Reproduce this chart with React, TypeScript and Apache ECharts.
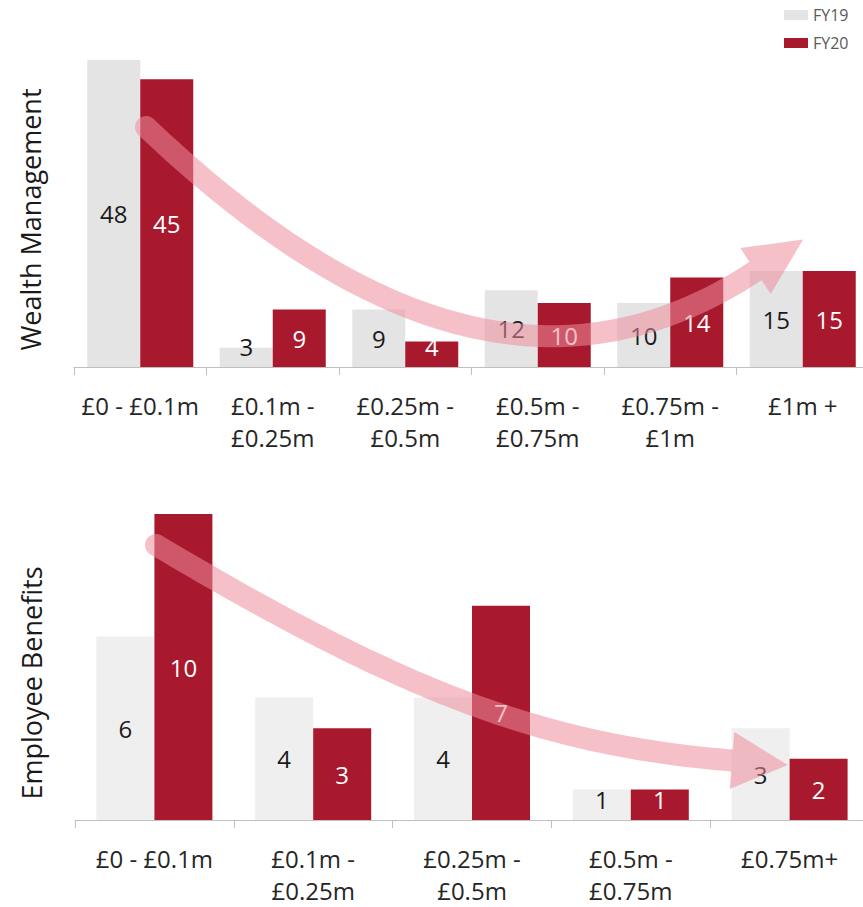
import React, { useEffect, useRef } from "react";
import * as echarts from "echarts";

const wmCategories = ["£0 - £0.1m", "£0.1m -\n£0.25m", "£0.25m -\n£0.5m", "£0.5m -\n£0.75m", "£0.75m -\n£1m", "£1m +"];
const wmFY19 = [48, 3, 9, 12, 10, 15];
const wmFY20 = [45, 9, 4, 10, 14, 15];

const ebCategories = ["£0 - £0.1m", "£0.1m -\n£0.25m", "£0.25m -\n£0.5m", "£0.5m -\n£0.75m", "£0.75m+"];
const ebFY19 = [6, 4, 4, 1, 3];
const ebFY20 = [10, 3, 7, 1, 2];

const seriesNames = ["FY19", "FY20"];

type P = [number, number];

function bez(p0: P, p1: P, p2: P, p3: P, t: number): P {
  const m = 1 - t;
  return [
    m * m * m * p0[0] + 3 * m * m * t * p1[0] + 3 * m * t * t * p2[0] + t * t * t * p3[0],
    m * m * m * p0[1] + 3 * m * m * t * p1[1] + 3 * m * t * t * p2[1] + t * t * t * p3[1],
  ];
}
function bezD(p0: P, p1: P, p2: P, p3: P, t: number): P {
  const m = 1 - t;
  const dx = 3 * m * m * (p1[0] - p0[0]) + 6 * m * t * (p2[0] - p1[0]) + 3 * t * t * (p3[0] - p2[0]);
  const dy = 3 * m * m * (p1[1] - p0[1]) + 6 * m * t * (p2[1] - p1[1]) + 3 * t * t * (p3[1] - p2[1]);
  const l = Math.hypot(dx, dy) || 1;
  return [dx / l, dy / l];
}

function arrowPoints(p0: P, p1: P, p2: P, p3: P, w: number, headLen: number, headW: number): P[] {
  const N = 80;
  const h = w / 2;
  const left: P[] = [];
  const right: P[] = [];
  for (let i = 0; i <= N; i++) {
    const t = i / N;
    const p = bez(p0, p1, p2, p3, t);
    const d = bezD(p0, p1, p2, p3, t);
    const n: P = [-d[1], d[0]];
    left.push([p[0] + n[0] * h, p[1] + n[1] * h]);
    right.push([p[0] - n[0] * h, p[1] - n[1] * h]);
  }
  const T = bezD(p0, p1, p2, p3, 1);
  const nE: P = [-T[1], T[0]];
  const baseL: P = [p3[0] + nE[0] * headW / 2, p3[1] + nE[1] * headW / 2];
  const tip: P = [p3[0] + T[0] * headLen, p3[1] + T[1] * headLen];
  const baseR: P = [p3[0] - nE[0] * headW / 2, p3[1] - nE[1] * headW / 2];
  const T0 = bezD(p0, p1, p2, p3, 0);
  const n0: P = [-T0[1], T0[0]];
  const cap: P[] = [];
  const M = 20;
  for (let k = 1; k < M; k++) {
    const phi = (k / M) * Math.PI;
    cap.push([
      p0[0] + h * (Math.cos(phi) * -n0[0] + Math.sin(phi) * -T0[0]),
      p0[1] + h * (Math.cos(phi) * -n0[1] + Math.sin(phi) * -T0[1]),
    ]);
  }
  return [...left, baseL, tip, baseR, ...right.reverse(), ...cap];
}

const FONT = "Open Sans";
const RED = "#a9192e";
const ARROW = "rgba(236,141,155,0.55)";

export default function App() {
  const ref = useRef<HTMLDivElement>(null);
  useEffect(() => {
    if (!ref.current) return;
    const chart = echarts.init(ref.current, undefined, { renderer: "svg" });

    const topTop = 60, topBase = 367;
    const botTop = 514, botBase = 820;
    const wmMax = Math.max(...wmFY19, ...wmFY20);
    const ebMax = Math.max(...ebFY19, ...ebFY20);
    const wmScale = (topBase - topTop) / wmMax;
    const ebScale = (botBase - botTop) / ebMax;

    const mk = (vals: number[], scale: number) =>
      vals.map((v) => ({ value: v, label: { offset: [0, Math.min(0, (v * scale) / 2 - 21)] } }));

    const xAxisCommon = {
      type: "category" as const,
      axisLine: { lineStyle: { color: "#bfbfbf", width: 1 } },
      axisTick: { show: true, length: 8, lineStyle: { color: "#bfbfbf" } },
      axisLabel: {
        interval: 0,
        fontFamily: FONT,
        fontSize: 24,
        color: "#262626",
        lineHeight: 32,
        margin: 22,
      },
    };
    const yAxisCommon = {
      type: "value" as const,
      min: 0,
      axisLine: { show: false },
      axisTick: { show: false },
      axisLabel: { show: false },
      splitLine: { show: false },
      nameLocation: "middle" as const,
      nameRotate: 90,
      nameGap: 30,
    };
    const labelFY19 = { show: true, position: "inside", fontFamily: FONT, fontSize: 24, color: "#1a1a1a" };
    const labelFY20 = { show: true, position: "inside", fontFamily: FONT, fontSize: 24, color: "#ffffff" };

    const topArrow = arrowPoints([146, 127], [360, 330], [560, 400], [755.5, 271], 22, 57, 55);
    const botArrow = arrowPoints([156, 545], [400, 690], [540, 745], [732, 760.5], 22, 56, 57);

    chart.setOption({
      animation: false,
      legend: {
        data: seriesNames,
        orient: "vertical",
        left: 779,
        top: 0,
        icon: "rect",
        itemWidth: 24,
        itemHeight: 10,
        itemGap: 8,
        textStyle: { fontFamily: FONT, fontSize: 16, color: "#595959", lineHeight: 20 },
      },
      grid: [
        { left: 74, width: 795, top: topTop, height: topBase - topTop, outerBoundsMode: "none" },
        { left: 75, width: 794, top: botTop, height: botBase - botTop, outerBoundsMode: "none" },
      ],
      xAxis: [
        { ...xAxisCommon, gridIndex: 0, data: wmCategories },
        { ...xAxisCommon, gridIndex: 1, data: ebCategories },
      ],
      yAxis: [
        {
          ...yAxisCommon,
          gridIndex: 0,
          max: wmMax,
          name: "Wealth Management",
          nameTextStyle: { fontFamily: FONT, fontSize: 27, color: "#1a1a1a", padding: [0, 12, 0, 0] },
        },
        {
          ...yAxisCommon,
          gridIndex: 1,
          max: ebMax,
          name: "Employee Benefits",
          nameTextStyle: { fontFamily: FONT, fontSize: 27, color: "#1a1a1a", padding: [0, 32, 0, 0] },
        },
      ],
      series: [
        {
          name: seriesNames[0], type: "bar", xAxisIndex: 0, yAxisIndex: 0, barWidth: 53, barGap: "0%",
          itemStyle: { color: "#e4e4e4" }, label: labelFY19, data: mk(wmFY19, wmScale),
        },
        {
          name: seriesNames[1], type: "bar", xAxisIndex: 0, yAxisIndex: 0, barWidth: 53, barGap: "0%",
          itemStyle: { color: RED }, label: labelFY20, data: mk(wmFY20, wmScale),
        },
        {
          name: seriesNames[0], type: "bar", xAxisIndex: 1, yAxisIndex: 1, barWidth: 58, barGap: "0%",
          itemStyle: { color: "#efefef" }, label: labelFY19, data: mk(ebFY19, ebScale),
        },
        {
          name: seriesNames[1], type: "bar", xAxisIndex: 1, yAxisIndex: 1, barWidth: 58, barGap: "0%",
          itemStyle: { color: RED }, label: labelFY20, data: mk(ebFY20, ebScale),
        },
      ],
      graphic: [
        { type: "polygon", z: 100, shape: { points: topArrow }, style: { fill: ARROW } },
        { type: "polygon", z: 100, shape: { points: botArrow }, style: { fill: ARROW } },
      ],
    });
    return () => chart.dispose();
  }, []);

  return (
    <div
      ref={ref}
      style={{ position: "fixed", left: 0, top: 0, width: 863, height: 907, background: "#fff" }}
    />
  );
}
